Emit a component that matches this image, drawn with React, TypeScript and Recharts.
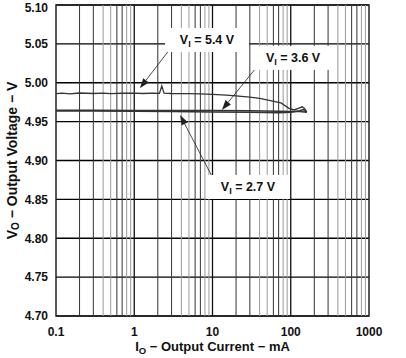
import React from 'react';
import {
  LineChart, Line, XAxis, YAxis, CartesianGrid, ReferenceLine, ReferenceArea, ReferenceDot, Label
} from 'recharts';

// output current (mA) / output voltage (V)
const v54 = [
  { i: 0.1, v: 4.986 }, { i: 0.12, v: 4.9866 }, { i: 0.15, v: 4.9857 }, { i: 0.2, v: 4.9868 },
  { i: 0.3, v: 4.9862 }, { i: 0.4, v: 4.9867 }, { i: 0.5, v: 4.986 }, { i: 0.7, v: 4.9865 },
  { i: 1, v: 4.9867 }, { i: 1.3, v: 4.9862 }, { i: 1.7, v: 4.9866 }, { i: 2.1, v: 4.9864 },
  { i: 2.25, v: 4.996 }, { i: 2.4, v: 4.9866 }, { i: 3, v: 4.9862 }, { i: 5, v: 4.986 },
  { i: 7, v: 4.9856 }, { i: 10, v: 4.985 }, { i: 15, v: 4.984 }, { i: 20, v: 4.983 },
  { i: 30, v: 4.9815 }, { i: 40, v: 4.98 }, { i: 55, v: 4.977 }, { i: 75, v: 4.974 },
  { i: 95, v: 4.967 }, { i: 110, v: 4.965 }, { i: 125, v: 4.967 }, { i: 140, v: 4.969 },
  { i: 150, v: 4.967 }, { i: 160, v: 4.963 },
];
const v36 = [
  { i: 0.1, v: 4.9638 }, { i: 0.3, v: 4.9636 }, { i: 1, v: 4.9634 }, { i: 3, v: 4.963 },
  { i: 10, v: 4.9625 }, { i: 30, v: 4.962 }, { i: 70, v: 4.9615 }, { i: 100, v: 4.962 },
  { i: 130, v: 4.964 }, { i: 145, v: 4.9655 }, { i: 160, v: 4.962 },
];
const v27 = [
  { i: 0.1, v: 4.9646 }, { i: 0.3, v: 4.9645 }, { i: 1, v: 4.9644 }, { i: 3, v: 4.9643 },
  { i: 10, v: 4.9642 }, { i: 30, v: 4.964 }, { i: 70, v: 4.9635 }, { i: 100, v: 4.963 },
  { i: 130, v: 4.963 }, { i: 160, v: 4.962 },
];

const xTicks = [0.1, 1, 10, 100, 1000];
const yTicks = [4.7, 4.75, 4.8, 4.85, 4.9, 4.95, 5.0, 5.05, 5.1];
const decades = [0.1, 1, 10, 100];
const multipliers = [2, 3, 4, 5, 6, 7, 8, 9];

// annotations: label position and arrow (from, to)
const notes = [
  { text: '5.4', at: { i: 8.5, v: 5.055 }, from: { i: 3.0, v: 5.046 }, to: { i: 1.18, v: 4.993 }, w: 84 },
  { text: '3.6', at: { i: 107, v: 5.032 }, from: { i: 36, v: 5.019 }, to: { i: 13.2, v: 4.965 }, w: 80 },
  { text: '2.7', at: { i: 28.4, v: 4.866 }, from: { i: 10.1, v: 4.8775 }, to: { i: 3.85, v: 4.9585 }, w: 84 },
];

const font = '"Liberation Sans", Arial, sans-serif';
const tickStyle = { fill: '#111', fontSize: 12, fontWeight: 'bold' as const, fontFamily: font };

const Arrow = (props: any) => {
  const { x1, y1, x2, y2 } = props;
  const ang = Math.atan2(y2 - y1, x2 - x1);
  const len = 10, half = 3.5;
  const bx = x2 - len * Math.cos(ang), by = y2 - len * Math.sin(ang);
  const px = -Math.sin(ang) * half, py = Math.cos(ang) * half;
  return (
    <g>
      <line x1={x1} y1={y1} x2={bx} y2={by} stroke="#222" strokeWidth={0.8} />
      <polygon points={`${x2},${y2} ${bx + px},${by + py} ${bx - px},${by - py}`} fill="#222" />
    </g>
  );
};

const NoteBox = (text: string, w: number) => (props: any) => {
  const { cx, cy } = props;
  return (
    <g>
      <rect x={cx - w / 2} y={cy - 12} width={w} height={24} fill="#fff" />
      <text x={cx} y={cy + 4.5} textAnchor="middle" style={{ ...tickStyle, fontSize: 12.5 }}>
        V<tspan fontSize={9} dy={3}>I</tspan><tspan dy={-3}>{` = ${text} V`}</tspan>
      </text>
    </g>
  );
};

const YTitle = (props: any) => {
  const { viewBox } = props;
  const cx = viewBox.x + 6;
  const cy = viewBox.y + viewBox.height / 2;
  return (
    <text x={cx} y={cy} textAnchor="middle" transform={`rotate(-90 ${cx} ${cy})`} dominantBaseline="central"
      style={{ ...tickStyle, fontSize: 14 }}>
      V<tspan fontSize={10} dy={3}>O</tspan><tspan dy={-3}>{' − Output Voltage − V'}</tspan>
    </text>
  );
};

const XTitle = (props: any) => {
  const { viewBox } = props;
  const cx = viewBox.x + viewBox.width / 2;
  return (
    <text x={cx} y={351} textAnchor="middle" style={{ ...tickStyle, fontSize: 13 }}>
      I<tspan fontSize={9.5} dy={3}>O</tspan><tspan dy={-3}>{' − Output Current − mA'}</tspan>
    </text>
  );
};

export default function App() {
  const minors: { x: number; dark: boolean }[] = [];
  decades.forEach((d) => multipliers.forEach((m) => minors.push({ x: d * m, dark: m === 2 || m === 3 || m === 6 || m === 7 })));
  return (
    <div style={{ position: 'absolute', left: 0, top: 0, background: '#fff' }}>
      <LineChart width={406} height={358} margin={{ top: 5, right: 37, left: 6, bottom: 22 }}>
        <CartesianGrid vertical={false} stroke="#000" strokeWidth={1.3} />
        <XAxis
          dataKey="i" type="number" scale="log" domain={[0.1, 1000]} ticks={xTicks} allowDataOverflow
          tickFormatter={(t: number) => String(t)} tick={tickStyle} tickLine={false} axisLine={false} height={20}
          tickMargin={5}
        >
          <Label content={XTitle} />
        </XAxis>
        <YAxis
          dataKey="v" type="number" domain={[4.7, 5.1]} ticks={yTicks} allowDataOverflow width={50}
          tickFormatter={(t: number) => t.toFixed(2)} tick={tickStyle} tickLine={false} axisLine={false}
        >
          <Label content={YTitle} />
        </YAxis>
        {minors.map((g) => (
          <ReferenceLine key={g.x} x={g.x} stroke={g.dark ? '#333' : '#9a9a9a'} strokeWidth={1} />
        ))}
        {decades.slice(1).map((d) => (
          <ReferenceLine key={'d' + d} x={d} stroke="#111" strokeWidth={1.3} />
        ))}
        {notes.map((n) => (
          <ReferenceDot key={'b' + n.text} x={n.at.i} y={n.at.v} shape={NoteBox(n.text, n.w)} />
        ))}
        <Line data={v54} dataKey="v" stroke="#333" strokeWidth={1.3} dot={false} isAnimationActive={false} />
        <Line data={v36} dataKey="v" stroke="#333" strokeWidth={1.5} dot={false} isAnimationActive={false} />
        <Line data={v27} dataKey="v" stroke="#333" strokeWidth={1.5} dot={false} isAnimationActive={false} />
        {notes.map((n) => (
          <ReferenceLine
            key={'a' + n.text}
            segment={[{ x: n.from.i, y: n.from.v }, { x: n.to.i, y: n.to.v }]}
            shape={Arrow}
          />
        ))}
        <ReferenceArea x1={0.1} x2={1000} y1={4.7} y2={5.1} fill="none" stroke="#222" strokeWidth={1.5} fillOpacity={0} />
      </LineChart>
    </div>
  );
}
